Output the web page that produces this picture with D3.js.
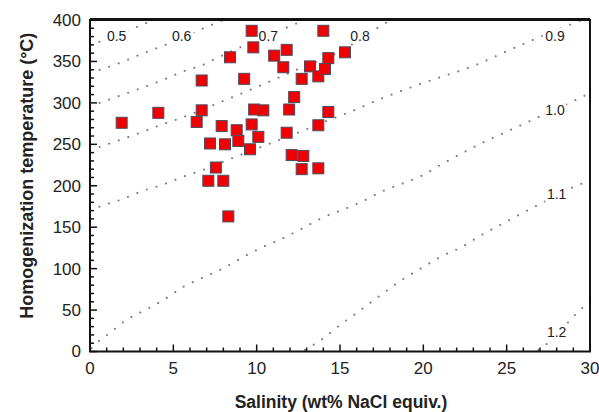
<!DOCTYPE html>
<html>
<head>
<meta charset="utf-8">
<script src="https://cdn.jsdelivr.net/npm/d3@7"></script>
<style>
  html, body { margin: 0; padding: 0; background: #fff; }
  svg { display: block; font-family: "Liberation Sans", Arial, sans-serif; }
</style>
</head>
<body>
<div id="chart"></div>
<script>
// fluid inclusion data: salinity (wt% NaCl equiv.) vs homogenization temperature (°C)
const salinity = [
  1.9, 4.1, 6.4, 6.7, 6.7, 7.2, 7.55, 7.1, 8.0, 8.3,
  7.9, 8.1, 8.4, 8.8, 8.9, 9.25, 9.7, 9.8, 9.7, 9.6,
  9.85, 10.1, 10.4, 11.05, 11.8, 11.6, 11.8, 11.95, 12.25, 12.1,
  12.7, 12.8, 12.7, 13.2, 13.7, 13.7, 14.0, 14.1, 14.3, 14.3,
  13.7, 15.3
]
const temperature = [
  276, 288, 277, 291, 327, 251, 222, 206, 206, 163,
  272, 250, 355, 267, 254, 329, 387, 367, 274, 244,
  292, 259, 291, 357, 364, 343, 264, 292, 307, 237,
  329, 236, 220, 344, 332, 273, 387, 341, 354, 289,
  221, 361
]

// isochores (g/cm3) as [salinity, temperature]
const iso05 = [[0, 369], [0.6, 374], [3.1, 394], [3.8, 400]]
const iso06 = [[0, 336], [0.6, 340], [1.9, 349], [3.1, 359], [4.4, 369], [5.5, 378], [6.8, 390], [7.4, 395], [8.0, 400]]
const iso07 = [[0, 296], [0.6, 300], [1.9, 309.5], [3.1, 318], [4.4, 328], [5.6, 338], [6.9, 347], [7.4, 352], [11.7, 390], [12.3, 395], [12.9, 400]]
const iso08 = [[0, 243], [0.6, 247], [1.9, 256], [3.1, 264.5], [4.4, 274.5], [5.0, 278.5], [8.2, 304], [10.0, 319], [12.4, 340], [15.0, 362], [17.2, 390], [17.7, 396], [18.1, 400]]
const iso09 = [[0, 170], [0.6, 175], [1.9, 183.5], [3.1, 193.5], [4.4, 201.5], [5.6, 211], [6.9, 220], [8.0, 229], [12.4, 263.5], [14.3, 279], [15.6, 289], [17.4, 304.5], [19.3, 319], [21.1, 331.5], [23.0, 344.5], [24.2, 355], [26.1, 372], [26.7, 377], [29.5, 400]]
const iso10 = [[0.1, 4], [0.5, 12], [1.1, 21], [2.1, 37], [3.2, 49], [4.4, 62], [5.6, 78], [6.8, 89.5], [8.0, 100.5], [9.1, 113], [10.3, 125.5], [11.5, 136], [12.7, 148], [13.9, 161], [15.1, 170.5], [16.3, 180.5], [17.5, 193], [18.8, 203], [20.0, 213], [21.1, 226], [22.4, 240], [23.5, 251.5], [24.7, 262.5], [25.9, 273.5], [26.6, 280], [29.0, 302], [29.6, 308], [30, 311]]
const iso11 = [[12.9, 2], [13.4, 8], [14.0, 16], [15.0, 32], [16.1, 48], [17.2, 64.5], [18.8, 87.5], [20.0, 102], [21.2, 116], [22.3, 126], [23.4, 139.5], [24.6, 152.5], [25.7, 164.5], [26.9, 177], [29.3, 201], [30, 206]]
const iso12 = [[26.9, 2], [27.5, 10.5], [29.3, 48], [29.8, 57], [30, 60]]

const isoLabels = ['0.5', '0.6', '0.7', '0.8', '0.9', '1.0', '1.1', '1.2']
const isoLabelS = [1.6, 5.5, 10.7, 16.2, 27.9, 27.9, 28.0, 28.0]
const isoLabelT = [381, 381, 381, 381, 381, 291, 190, 23.5]

const xTicks = [0, 5, 10, 15, 20, 25, 30]
const yTicks = [0, 50, 100, 150, 200, 250, 300, 350, 400]

const width = 599
const height = 412
const margin = { top: 20, right: 9, bottom: 60.5, left: 90 }

const svg = d3.select('#chart')
  .append('svg')
  .attr('width', width)
  .attr('height', height)

const x = d3.scaleLinear().domain([0, 30]).range([margin.left, width - margin.right])
const y = d3.scaleLinear().domain([0, 400]).range([height - margin.bottom, margin.top])

svg.append('clipPath').attr('id', 'plot-clip')
  .append('rect')
  .attr('x', margin.left).attr('y', margin.top)
  .attr('width', x(30) - x(0)).attr('height', y(0) - y(400))

// ── ISOCHORES ────────────────────────────────────────────────
const line = d3.line()
  .x(d => x(d[0]))
  .y(d => y(d[1]))
  .curve(d3.curveMonotoneX)

svg.append('g')
  .attr('clip-path', 'url(#plot-clip)')
  .selectAll('path')
  .data([iso05, iso06, iso07, iso08, iso09, iso10, iso11, iso12])
  .join('path')
  .attr('d', line)
  .attr('fill', 'none')
  .attr('stroke', '#7a7a7a')
  .attr('stroke-width', 2)
  .attr('stroke-linecap', 'round')
  .attr('stroke-dasharray', '0.1 10')

svg.append('g')
  .selectAll('text')
  .data(isoLabels)
  .join('text')
  .attr('x', (d, i) => x(isoLabelS[i]))
  .attr('y', (d, i) => y(isoLabelT[i]))
  .attr('dy', '0.35em')
  .attr('text-anchor', 'middle')
  .attr('font-size', 14)
  .attr('fill', '#222')
  .attr('stroke', '#fff')
  .attr('stroke-width', 6)
  .attr('paint-order', 'stroke')
  .text(d => d)

// ── DATA POINTS ──────────────────────────────────────────────
const sq = 11
svg.append('g')
  .selectAll('rect')
  .data(salinity)
  .join('rect')
  .attr('x', (d, i) => x(d) - sq / 2)
  .attr('y', (d, i) => y(temperature[i]) - sq / 2)
  .attr('width', sq)
  .attr('height', sq)
  .attr('fill', '#f00000')
  .attr('stroke', '#4b4b63')
  .attr('stroke-width', 1)

// ── AXES ─────────────────────────────────────────────────────
const axisG = svg.append('g').attr('stroke', '#111')

axisG.selectAll('.xminor')
  .data(d3.range(0, 31))
  .join('line')
  .attr('x1', d => x(d)).attr('x2', d => x(d))
  .attr('y1', y(0)).attr('y2', d => y(0) - (d % 5 === 0 ? 7 : 4))
  .attr('stroke-width', 1.5)

axisG.selectAll('.yminor')
  .data(d3.range(0, 401, 10))
  .join('line')
  .attr('y1', d => y(d)).attr('y2', d => y(d))
  .attr('x1', x(0)).attr('x2', d => x(0) + (d % 50 === 0 ? 7 : 4))
  .attr('stroke-width', 1.5)

svg.append('rect')
  .attr('x', x(0)).attr('y', y(400))
  .attr('width', x(30) - x(0)).attr('height', y(0) - y(400))
  .attr('fill', 'none')
  .attr('stroke', '#111')
  .attr('stroke-width', 2)

svg.append('line')
  .attr('x1', x(0)).attr('x2', x(30))
  .attr('y1', y(400) - 0.5).attr('y2', y(400) - 0.5)
  .attr('stroke', '#111')
  .attr('stroke-width', 3)

svg.append('g')
  .selectAll('text')
  .data(xTicks)
  .join('text')
  .attr('x', d => x(d))
  .attr('y', 374)
  .attr('text-anchor', 'middle')
  .attr('font-size', 17)
  .attr('fill', '#222')
  .text(d => d)

svg.append('g')
  .selectAll('text')
  .data(yTicks)
  .join('text')
  .attr('x', 81)
  .attr('y', d => y(d))
  .attr('dy', '0.35em')
  .attr('text-anchor', 'end')
  .attr('font-size', 17)
  .attr('fill', '#222')
  .text(d => d)

svg.append('text')
  .attr('x', 341)
  .attr('y', 408)
  .attr('text-anchor', 'middle')
  .attr('font-size', 17.5)
  .attr('font-weight', 'bold')
  .attr('fill', '#222')
  .text('Salinity (wt% NaCl equiv.)')

svg.append('text')
  .attr('transform', `translate(33, ${(y(0) + y(400)) / 2 - 10}) rotate(-90)`)
  .attr('text-anchor', 'middle')
  .attr('font-size', 18)
  .attr('font-weight', 'bold')
  .attr('fill', '#222')
  .text('Homogenization temperature (°C)')
</script>
</body>
</html>
